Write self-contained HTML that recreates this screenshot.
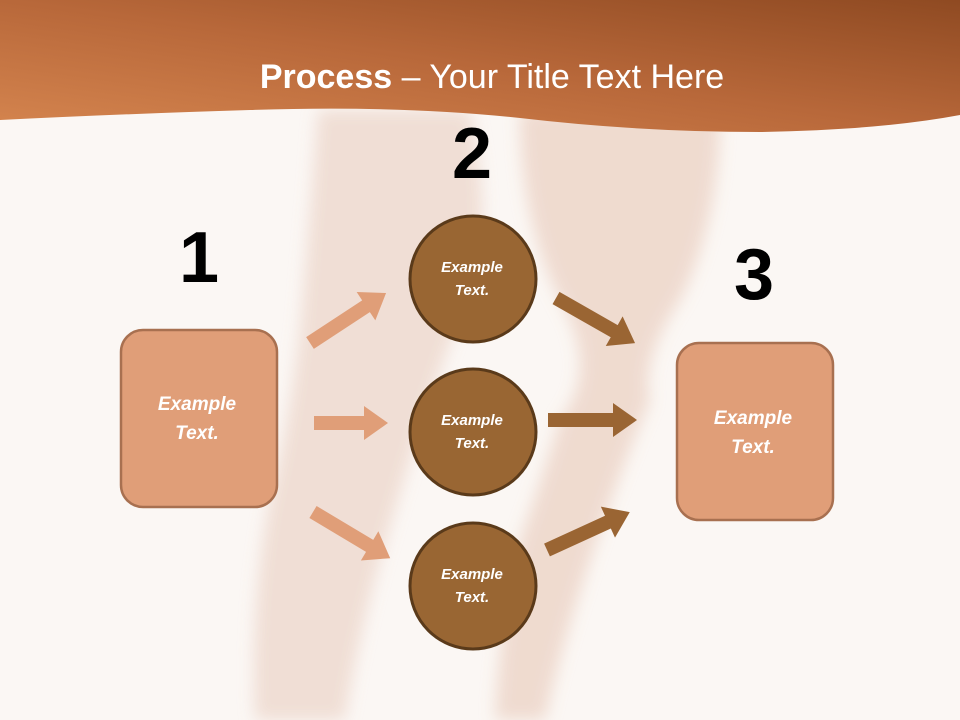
<!DOCTYPE html>
<html><head><meta charset="utf-8"><style>
html,body{margin:0;padding:0;width:960px;height:720px;overflow:hidden;background:#fbf7f4;}
svg{display:block}
</style></head><body>
<svg width="960" height="720" viewBox="0 0 960 720" xmlns="http://www.w3.org/2000/svg">
<defs>
<linearGradient id="hg" x1="0" y1="1" x2="1" y2="0">
<stop offset="0" stop-color="#d5854f"/>
<stop offset="0.5" stop-color="#b8683a"/>
<stop offset="1" stop-color="#8f4a22"/>
</linearGradient>
<linearGradient id="hg2" x1="0" y1="0" x2="0" y2="1">
<stop offset="0" stop-color="#000" stop-opacity="0.12"/>
<stop offset="1" stop-color="#000" stop-opacity="0"/>
</linearGradient>
<filter id="bl"><feGaussianBlur stdDeviation="8"/></filter>
</defs>
<rect width="960" height="720" fill="#fbf7f4"/>
<g filter="url(#bl)" opacity="0.9">
<path d="M318 110 L470 110 Q500 250 455 330 Q420 420 380 560 Q355 650 345 720 L255 720 Q250 600 270 500 Q290 420 300 330 Q310 220 318 110Z" fill="#efdcd2"/>
<path d="M520 110 L720 110 Q720 220 680 300 Q640 360 650 400 Q620 470 590 560 Q560 650 545 720 L495 720 Q500 620 520 540 Q545 470 560 420 Q600 370 560 300 Q520 220 520 110Z" fill="#eed8cc"/>
</g>
<path d="M0 0 H960 V115 Q880 130 760 132 Q640 132 520 118 Q400 105 250 110 Q120 114 0 120 Z" fill="url(#hg)"/>
<text x="492" y="88" text-anchor="middle" font-family="Liberation Sans, sans-serif" font-size="34" fill="#fff"><tspan font-weight="bold">Process</tspan> – Your Title Text Here</text>
<g font-family="Liberation Sans, sans-serif" font-weight="bold" font-size="72" fill="#000" text-anchor="middle">
<text x="199" y="282">1</text>
<text x="472" y="178">2</text>
<text x="754" y="299">3</text>
</g>
<g fill="#e09e78">
<polygon transform="translate(310,343) rotate(-33.3)" points="0,-7 67,-7 67,-17 91,0 67,17 67,7 0,7"/>
<polygon transform="translate(314,423)" points="0,-7 50,-7 50,-17 74,0 50,17 50,7 0,7"/>
<polygon transform="translate(313,512) rotate(30.9)" points="0,-7 66,-7 66,-17 90,0 66,17 66,7 0,7"/>
</g>
<g fill="#9a6533">
<polygon transform="translate(556,298) rotate(29.7)" points="0,-7 67,-7 67,-17 91,0 67,17 67,7 0,7"/>
<polygon transform="translate(548,420)" points="0,-7 65,-7 65,-17 89,0 65,17 65,7 0,7"/>
<polygon transform="translate(547,550) rotate(-24.6)" points="0,-7 67,-7 67,-17 91,0 67,17 67,7 0,7"/>
</g>
<rect x="121" y="330" width="156" height="177" rx="22" fill="#e09e78" stroke="#a87050" stroke-width="2.5"/>
<rect x="677" y="343" width="156" height="177" rx="22" fill="#e09e78" stroke="#a87050" stroke-width="2.5"/>
<g fill="#996633" stroke="#5a3a1a" stroke-width="3">
<circle cx="473" cy="279" r="63"/>
<circle cx="473" cy="432" r="63"/>
<circle cx="473" cy="586" r="63"/>
</g>
<g font-family="Liberation Sans, sans-serif" font-weight="bold" font-style="italic" fill="#fff" text-anchor="middle">
<g font-size="19">
<text x="197" y="410">Example</text><text x="197" y="439">Text.</text>
<text x="753" y="424">Example</text><text x="753" y="453">Text.</text>
</g>
<g font-size="15">
<text x="472" y="272">Example</text><text x="472" y="295">Text.</text>
<text x="472" y="425">Example</text><text x="472" y="448">Text.</text>
<text x="472" y="579">Example</text><text x="472" y="602">Text.</text>
</g>
</g>
</svg>
</body></html>
